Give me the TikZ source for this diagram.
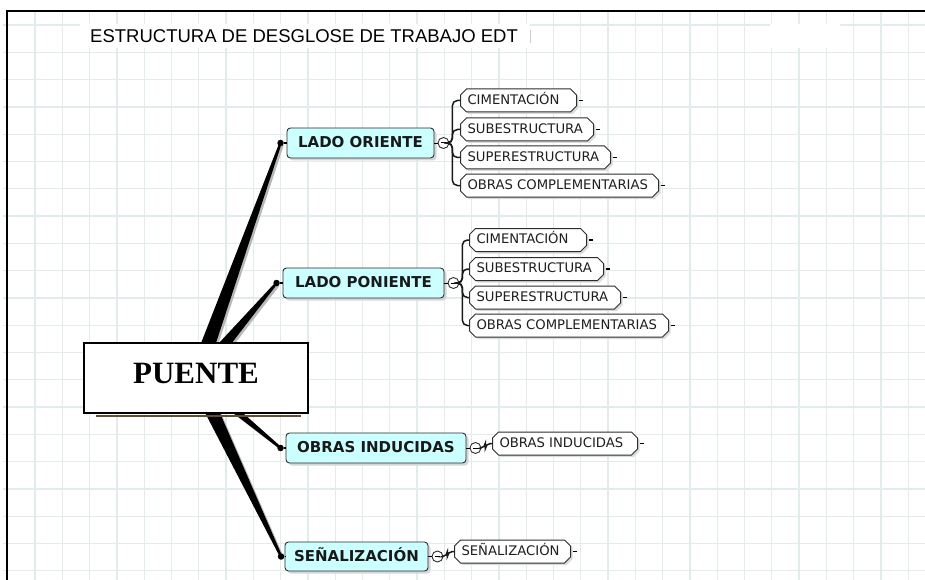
\documentclass[tikz,border=0pt]{standalone}
\usepackage{fontspec}
\newfontfamily\dejavu{DejaVu Sans}
\newfontfamily\libsans{Liberation Sans}
\newfontfamily\libserif{Liberation Serif}
\usetikzlibrary{calc,shapes.misc,shadows}
\pgfdeclarelayer{gridlayer}
\pgfdeclarelayer{back}
\pgfsetlayers{gridlayer,back,main}
\definecolor{gridc}{RGB}{226,236,236}
\definecolor{cyanfill}{RGB}{204,255,255}
\definecolor{edgegray}{RGB}{45,45,45}
\definecolor{puenteshadow}{RGB}{95,80,45}
\newcommand\cbox[2]{\makebox[#1pt][l]{#2}}
\newcommand\taperline[4][]{%
  \fill[#1] ($(#2)!#4!90:(#3)$) -- ($(#3)!1.2pt!-90:(#2)$) -- ($(#3)!1.2pt!90:(#2)$) -- ($(#2)!#4!-90:(#3)$) -- cycle;}
\tikzset{
  gridline/.style={draw=gridc, line width=1.3pt},
  framel/.style={draw=black, line width=2pt},
  puentebox/.style={draw=black, line width=1.8pt, fill=white, rectangle, inner sep=0pt,
    minimum width=224pt, minimum height=70pt, text depth=10pt,
    font=\libserif\bfseries\fontsize{31}{34}\selectfont},
  mainbox/.style={draw=edgegray, line width=0.9pt, fill=cyanfill, rounded corners=3.5pt,
    inner sep=0pt, minimum height=30pt, text height=11pt, text depth=2pt,
    text=black!90, font=\dejavu\bfseries\fontsize{15}{17}\selectfont,
    general shadow={fill=black!16, shadow xshift=2.5pt, shadow yshift=-2.5pt}},
  childbox/.style={draw=edgegray, line width=1pt, fill=white, chamfered rectangle,
    chamfered rectangle xsep=3pt, chamfered rectangle ysep=3pt,
    inner xsep=4pt, inner ysep=1pt, minimum height=23pt, anchor=west,
    text height=10pt, text depth=2.5pt, text=black!88,
    font=\dejavu\fontsize{13.2}{15}\selectfont,
    general shadow={fill=black!14, shadow xshift=2pt, shadow yshift=-2pt}},
  dotnode/.style={circle, fill=black, inner sep=0pt, minimum size=6.5pt},
  collapse/.style={circle, draw=edgegray, line width=0.9pt, fill=white, inner sep=0pt,
    minimum size=11pt},
  branch/.style={draw=black!90, line width=1.5pt, rounded corners=5pt},
  tickmark/.style={draw=black, line width=1.6pt},
  tapershadow/.style={fill=black!28, transform canvas={shift={(2pt,-2pt)}}},
  taperfill/.style={fill=black},
}
\begin{document}
\begin{tikzpicture}[x=1pt, y=-1pt]
\useasboundingbox (0,0) rectangle (925,580);
% ---------- background grid and frame ----------
\begin{pgfonlayer}{gridlayer}
  \fill[white] (0,0) rectangle (925,580);
  \foreach \i in {0,...,32} { \draw[gridline] ({35+27.29*\i},11) -- ({35+27.29*\i},580); }
  \foreach \j in {0,...,20} { \draw[gridline] (3,{25+27.29*\j}) -- (925,{25+27.29*\j}); }
  \fill[white] (80,24) rectangle (530,48);
  \fill[white] (770,24) rectangle (840,48);
  \draw[black!20, line width=0.8pt] (530,30) -- (530,43);
  \draw[framel] (7,580) -- (7,11) -- (925,11);
\end{pgfonlayer}
% ---------- title ----------
\node[anchor=base west, inner sep=0pt, font=\libsans\fontsize{18.5}{20}\selectfont] (title) at (90,43) {ESTRUCTURA DE DESGLOSE DE TRABAJO EDT};
% ---------- root ----------
\node[puentebox] (puente) at (196,378) {PUENTE};
\fill[puenteshadow] ($(puente.south west)+(13,1)$) rectangle ($(puente.south east)+(-8,3.5)$);
\coordinate (hub) at (puente.center);
% ---------- main branches ----------
\node[mainbox, minimum width=147pt] (or) at (360.5,143) {LADO ORIENTE};
\node[mainbox, minimum width=161pt] (op) at (363.5,283) {LADO PONIENTE};
\node[mainbox, minimum width=180pt] (oi) at (376,448) {OBRAS INDUCIDAS};
\node[mainbox, minimum width=143pt, minimum height=29pt] (se) at (356.5,556.5) {SEÑALIZACIÓN};
% end dots
\node[dotnode] (dor) at ($(or.west)+(-6,0)$) {};
\node[dotnode] (dop) at ($(op.west)+(-6,0)$) {};
\node[dotnode] (doi) at ($(oi.west)+(-5,0)$) {};
\node[dotnode] (dse) at ($(se.west)+(-3.5,0)$) {};
\draw[line width=1.2pt] (dor) -- (or.west);
\draw[line width=1.2pt] (dop) -- (op.west);
\draw[line width=1.2pt] (doi) -- (oi.west);
\draw[line width=1.2pt] (dse) -- (se.west);
% tapered connectors behind the root
\begin{pgfonlayer}{back}
  \taperline[tapershadow]{hub}{dor}{8pt}
  \taperline[tapershadow]{hub}{dop}{7pt}
  \taperline[tapershadow]{hub}{doi}{5pt}
  \taperline[tapershadow]{hub}{dse}{8pt}
  \taperline[taperfill]{hub}{dor}{8pt}
  \taperline[taperfill]{hub}{dop}{7pt}
  \taperline[taperfill]{hub}{doi}{5pt}
  \taperline[taperfill]{hub}{dse}{8pt}
\end{pgfonlayer}
% collapse circles
\node[collapse] (cor) at ($(or.east)+(9,0)$) {\rule{5pt}{1pt}};
\node[collapse] (cop) at ($(op.east)+(9,0)$) {\rule{5pt}{1pt}};
\node[collapse] (coi) at ($(oi.east)+(9,0)$) {\rule{5pt}{1pt}};
\node[collapse] (cse) at ($(se.east)+(9,0)$) {\rule{5pt}{1pt}};
\draw[line width=0.9pt] (or.east) -- (cor.west);
\draw[line width=0.9pt] (op.east) -- (cop.west);
\draw[line width=0.9pt] (oi.east) -- (coi.west);
\draw[line width=0.9pt] (se.east) -- (cse.west);
% ---------- children: LADO ORIENTE ----------
\node[childbox] (or1) at (460,100.5) {\cbox{102}{CIMENTACIÓN}};
\node[childbox] (or2) at (460,129.5) {\cbox{119}{SUBESTRUCTURA}};
\node[childbox] (or3) at (460,157.5) {\cbox{136}{SUPERESTRUCTURA}};
\node[childbox] (or4) at (460,185.5) {\cbox{184}{OBRAS COMPLEMENTARIAS}};
% ---------- children: LADO PONIENTE ----------
\node[childbox] (op1) at (469,240) {\cbox{103}{CIMENTACIÓN}};
\node[childbox] (op2) at (469,269) {\cbox{120}{SUBESTRUCTURA}};
\node[childbox] (op3) at (469,297.5) {\cbox{137}{SUPERESTRUCTURA}};
\node[childbox] (op4) at (469,325.5) {\cbox{185}{OBRAS COMPLEMENTARIAS}};
% ---------- children: single ----------
\node[childbox] (oi1) at (492,443.5) {\cbox{131}{OBRAS INDUCIDAS}};
\node[childbox] (se1) at (454,551.5) {\cbox{102}{SEÑALIZACIÓN}};
% ---------- branch connectors ----------
\foreach \c in {or1,or2,or3,or4} { \draw[branch] (cor.east) -- ++(3,0) |- (\c.west); }
\foreach \c in {op1,op2,op3,op4} { \draw[branch] (cop.east) -- ++(3,0) |- (\c.west); }
\draw[branch] (coi.east) -- ++(4,0) |- (oi1.west);
\draw[branch] (cse.east) -- ++(4,0) |- (se1.west);
% ---------- ticks ----------
\foreach \c in {or1,or2,or3,or4,op1,op2,op3,op4,oi1,se1} { \draw[tickmark] (\c.east) ++(1.5,0) -- ++(4,0); }
\end{tikzpicture}
\end{document}
